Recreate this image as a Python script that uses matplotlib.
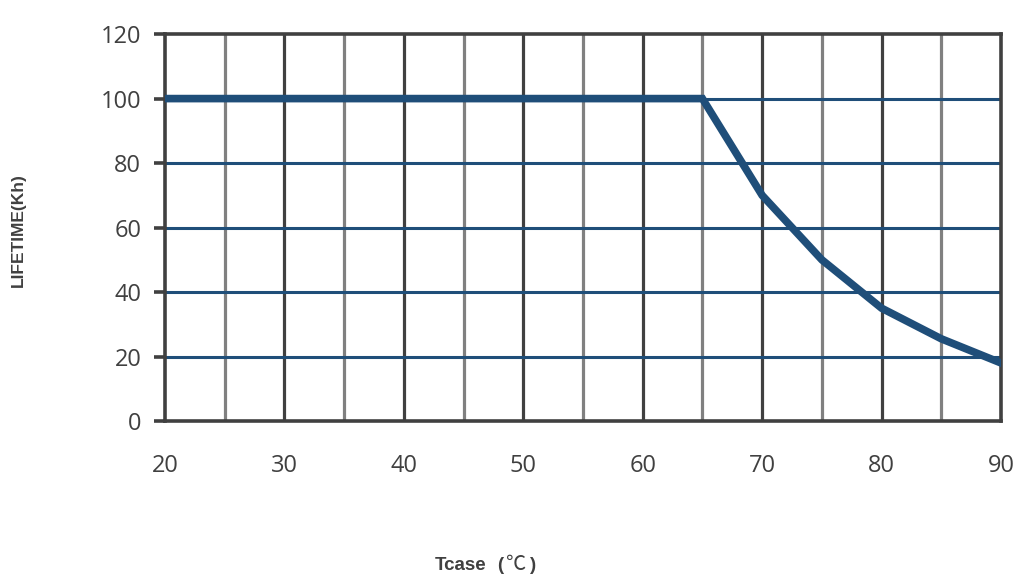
import matplotlib
matplotlib.use("Agg")
import matplotlib.pyplot as plt

tcase = [20, 65, 70, 75, 80, 85, 90]
lifetime = [100, 100, 70, 50, 35, 25.5, 18]
x_ticks = [20, 30, 40, 50, 60, 70, 80, 90]
x_minor = [25, 35, 45, 55, 65, 75, 85]
y_ticks = [0, 20, 40, 60, 80, 100, 120]

fig = plt.figure(figsize=(10.29, 5.78), dpi=100)
ax = fig.add_axes([0.1603, 0.2716, 0.8125, 0.6694])
ax.set_xlim(20, 90)
ax.set_ylim(0, 120)

for x in x_ticks[1:-1]:
    ax.axvline(x, color="#404040", lw=2.3, zorder=1)
for x in x_minor:
    ax.axvline(x, color="#808080", lw=2.3, zorder=1)
for y in y_ticks[1:-1]:
    ax.axhline(y, color="#1f4e79", lw=2.2, zorder=1)

ax.plot(tcase, lifetime, color="#1f4e79", lw=5.5, zorder=3, solid_joinstyle="miter")

for s in ax.spines.values():
    s.set_color("#404040")
    s.set_linewidth(2.6)

ax.set_xticks(x_ticks)
ax.set_yticks(y_ticks)
ax.tick_params(axis="x", length=0, pad=24, labelsize=17, labelcolor="#404040")
ax.tick_params(axis="y", length=8, width=2.6, color="#404040", pad=9, labelsize=17, labelcolor="#404040")
for lab in ax.get_xticklabels() + ax.get_yticklabels():
    lab.set_fontfamily("Open Sans")

fig.text(0.018, 0.602, "LIFETIME(Kh)", rotation=90, ha="center", va="center",
         fontsize=12.5, fontweight="bold", color="#404040", family="Liberation Sans")
fig.text(0.4225, 0.0138, "Tcase", ha="left", va="baseline", fontsize=13.5, fontweight="bold",
         color="#404040", family="Liberation Sans")
fig.text(0.483, 0.0138, "(", ha="left", va="baseline", fontsize=13.5, fontweight="bold",
         color="#404040", family="Liberation Sans")
fig.text(0.4905, 0.0138, "℃", ha="left", va="baseline", fontsize=14.5, color="#404040",
         family=["Noto Sans CJK SC", "DejaVu Sans"])
fig.text(0.515, 0.0138, ")", ha="left", va="baseline", fontsize=13.5, fontweight="bold",
         color="#404040", family="Liberation Sans")

fig.savefig("out.png", dpi=100)
